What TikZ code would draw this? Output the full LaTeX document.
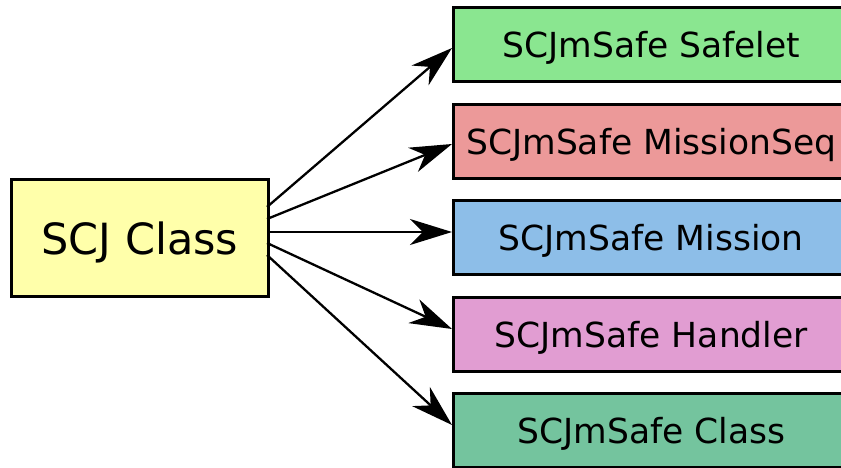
\documentclass[tikz,border=0pt]{standalone}
\usepackage{fontspec}
\setmainfont{DejaVu Sans}
\usetikzlibrary{arrows.meta,calc}
\definecolor{srcfill}{RGB}{255,255,170}
\definecolor{safeletfill}{RGB}{138,230,144}
\definecolor{seqfill}{RGB}{236,153,153}
\definecolor{missionfill}{RGB}{141,190,232}
\definecolor{handlerfill}{RGB}{225,157,210}
\definecolor{classfill}{RGB}{116,196,158}
\tikzset{
  box/.style={draw=black, line width=2.6pt, inner sep=0pt, text depth=0pt, anchor=north west},
  target/.style={box, minimum width=396pt, minimum height=74pt, font=\fontsize{34.5}{40}\selectfont},
  link/.style={line width=2.3pt, -{Stealth[length=42pt, width=26pt, inset=13pt]}}
}
\begin{document}
\begin{tikzpicture}[x=1pt, y=-1pt]
  \useasboundingbox (0,0) rectangle (841,468);
  \node[box, fill=srcfill, minimum width=257pt, minimum height=117pt,
        font=\fontsize{43}{50}\selectfont] (src) at (10,178) {SCJ Class};
  \node[target, fill=safeletfill] (safelet) at (452,6) {SCJmSafe Safelet};
  \node[target, fill=seqfill] (seq) at (452,103) {SCJmSafe MissionSeq};
  \node[target, fill=missionfill] (mission) at (452,199) {SCJmSafe Mission};
  \node[target, fill=handlerfill] (handler) at (452,296) {SCJmSafe Handler};
  \node[target, fill=classfill] (cls) at (452,392) {SCJmSafe Class};
  % start points on the right side of the source box
  \coordinate (s1) at (267,207);
  \coordinate (s2) at (267,219);
  \coordinate (s3) at (267,232);
  \coordinate (s4) at (267,243);
  \coordinate (s5) at (267,255);
  % tips on the left side of each target box
  \coordinate (t1) at ($(safelet.north west)+(0,42)$);
  \coordinate (t2) at ($(seq.north west)+(0,41)$);
  \coordinate (t3) at ($(mission.north west)+(0,33)$);
  \coordinate (t4) at ($(handler.north west)+(0,33)$);
  \coordinate (t5) at ($(cls.north west)+(0,33)$);
  \draw[link] (s1) -- (t1);
  \draw[link] (s2) -- (t2);
  \draw[link] (s3) -- (t3);
  \draw[link] (s4) -- (t4);
  \draw[link] (s5) -- (t5);
\end{tikzpicture}
\end{document}
